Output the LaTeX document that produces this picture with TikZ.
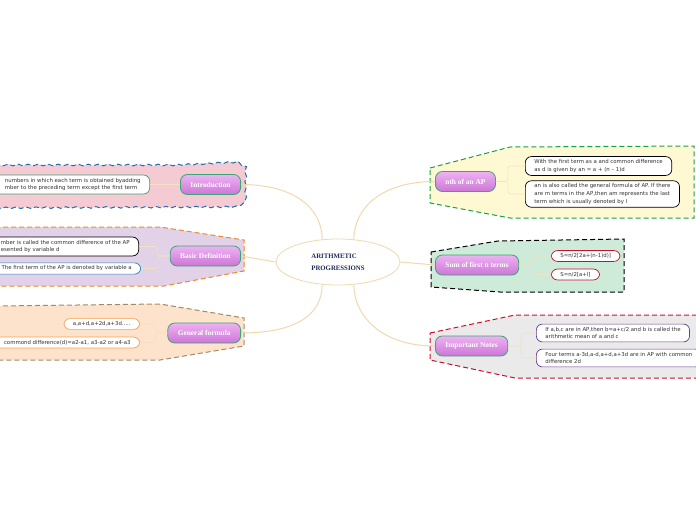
\documentclass[tikz,border=0pt]{standalone}
\usepackage{fontspec}
\setmainfont{DejaVu Sans}
\newfontfamily\pillfont{Liberation Serif}
\usetikzlibrary{shapes.geometric, decorations.pathmorphing}
\definecolor{pillgreen}{HTML}{3AA676}
\definecolor{pilltop}{HTML}{EEB2F2}
\definecolor{pillbot}{HTML}{CC76D6}
\definecolor{stemtan}{HTML}{EFD9AE}
\definecolor{twigtan}{HTML}{F2E2C2}
\definecolor{introbg}{HTML}{F4CBD3}
\definecolor{introline}{HTML}{1F6DB3}
\definecolor{basicbg}{HTML}{E1D2E8}
\definecolor{basicline}{HTML}{F0882A}
\definecolor{generalbg}{HTML}{FDE3CB}
\definecolor{generalline}{HTML}{A08A6A}
\definecolor{nthbg}{HTML}{FEF9D2}
\definecolor{nthline}{HTML}{17A04A}
\definecolor{sumbg}{HTML}{CDEBD8}
\definecolor{notesbg}{HTML}{EAEAEA}
\definecolor{notesline}{HTML}{C8102E}
\definecolor{leaftext}{HTML}{333333}
\definecolor{leafblue}{HTML}{2A7FC4}
\definecolor{leaforange}{HTML}{F4A050}
\definecolor{leafpurple}{HTML}{6E3B93}
\definecolor{titleblue}{HTML}{1D2C5A}
\newcommand{\lead}{\hspace*{20pt}}
\begin{document}
\begin{tikzpicture}[x=1pt, y=-1pt,
  pill/.style = {draw=pillgreen, line width=0.8pt, rounded corners=7pt, top color=pilltop, bottom color=pillbot, text=white, font=\pillfont\bfseries\fontsize{7.4}{8}\selectfont, inner xsep=10pt, minimum height=20pt},
  leaf/.style = {draw, fill=white, line width=0.7pt, rounded corners=6pt, inner xsep=9pt, inner ysep=3pt, align=left, text=leaftext, font=\fontsize{5.4}{7.6}\selectfont},
  stem/.style = {draw=stemtan, line width=1pt},
  twig/.style = {draw=twigtan, line width=0.6pt, rounded corners=3pt},
  zone/.style = {line width=1pt, dash pattern=on 5pt off 3pt}]
\useasboundingbox (0,0) rectangle (696,520);
\path[zone, fill=introbg, draw=introline, decorate, decoration={snake, amplitude=0.8pt, segment length=10pt}] (-5,165) -- (175,165) -- (235,162) -- (246,169) -- (246,200) -- (236,205) -- (-5,206) -- cycle;
\path[zone, fill=basicbg, draw=basicline] (-5,227) -- (160,227) -- (244,240) -- (244,271) -- (164,286) -- (-5,286) -- cycle;
\path[zone, fill=generalbg, draw=generalline] (-5,306) -- (160,304) -- (244,318) -- (244,346) -- (160,360) -- (-5,360) -- cycle;
\path[zone, fill=nthbg, draw=nthline] (430,168) -- (510,147) -- (694,146) -- (694,218) -- (510,218) -- (430,203) -- cycle;
\path[zone, fill=sumbg, draw=black] (431,252) -- (498,241) -- (624,239) -- (624,292) -- (500,292) -- (431,287) -- cycle;
\path[zone, fill=notesbg, draw=notesline] (430,333) -- (515,315) -- (700,315) -- (700,378) -- (515,378) -- (430,360) -- cycle;

\node[ellipse, draw=stemtan, line width=0.8pt, fill=white, minimum width=124pt, minimum height=46pt, align=left, text=titleblue, font=\pillfont\bfseries\fontsize{6.8}{12}\selectfont] (ap) at (338,262) {ARITHMETIC\\PROGRESSIONS};

\node[pill, anchor=east] (intro) at (241,184.5) {Introduction};
\node[pill, anchor=east] (basic) at (241,256) {Basic Definition};
\node[pill, anchor=east] (general) at (241,333) {General formula};
\node[pill, anchor=west] (nth) at (435,181.5) {nth of an AP};
\node[pill, anchor=west] (sum) at (435,265) {Sum of first n terms};
\node[pill, anchor=west] (notes) at (435,346) {Important Notes};

\node[leaf, draw=pillgreen, anchor=east] (intro1) at (150,184.5) {\lead numbers in which each term is obtained byadding\\\lead mber to the preceding term except the first term};
\node[leaf, anchor=east] (basic1) at (139,246.5) {\lead mber is called the common difference of the AP\\\lead esented by variable d};
\node[leaf, draw=leafblue, anchor=east] (basic2) at (141,268.5) {\lead The first term of the AP is denoted by variable a};
\node[leaf, draw=leaforange, anchor=east] (gen1) at (140,324) {a,a+d,a+2d,a+3d.....};
\node[leaf, draw=leaforange, anchor=east] (gen2) at (140,342.5) {\lead commond difference(d)=a2-a1, a3-a2 or a4-a3};
\node[leaf, anchor=west] (nth1) at (525,166) {With the first term as a and common difference\\as d is given by an = a + (n – 1)d};
\node[leaf, anchor=west] (nth2) at (525,194) {an is also called the general formula of AP. If there\\are m terms in the AP,then am represents the last\\term which is usually denoted by l};
\node[leaf, draw=notesline, anchor=west] (sum1) at (551,256) {S=n/2[2a+(n-1)d)]};
\node[leaf, draw=notesline, anchor=west] (sum2) at (551,274.5) {S=n/2[a+l]};
\node[leaf, draw=leafpurple, anchor=west] (notes1) at (536,333) {If a,b,c are in AP,then b=a+c/2 and b is called the\\arithmetic mean of a and c};
\node[leaf, draw=leafpurple, anchor=west] (notes2) at (536,358) {Four terms a-3d,a-d,a+d,a+3d are in AP with common\\difference 2d};

\draw[stem] (intro.east) .. controls +(55,0) and +(0,-30) .. (ap.125);
\draw[stem] (basic.east) -- (ap.west);
\draw[stem] (general.east) .. controls +(55,0) and +(0,30) .. (ap.235);
\draw[stem] (ap.55) .. controls +(0,-30) and +(-55,0) .. (nth.west);
\draw[stem] (ap.east) -- (sum.west);
\draw[stem] (ap.305) .. controls +(0,30) and +(-55,0) .. (notes.west);

\draw[twig] (intro.west) -- (intro1.east);
\draw[twig] (basic.west) -- ++(-12,0) |- (basic1.east);
\draw[twig] (basic.west) -- ++(-12,0) |- (basic2.east);
\draw[twig] (general.west) -- ++(-12,0) |- (gen1.east);
\draw[twig] (general.west) -- ++(-12,0) |- (gen2.east);
\draw[twig] (nth.east) -- ++(12,0) |- (nth1.west);
\draw[twig] (nth.east) -- ++(12,0) |- (nth2.west);
\draw[twig] (sum.east) -- ++(13,0) |- (sum1.west);
\draw[twig] (sum.east) -- ++(13,0) |- (sum2.west);
\draw[twig] (notes.east) -- ++(13,0) |- (notes1.west);
\draw[twig] (notes.east) -- ++(13,0) |- (notes2.west);
\end{tikzpicture}
\end{document}
